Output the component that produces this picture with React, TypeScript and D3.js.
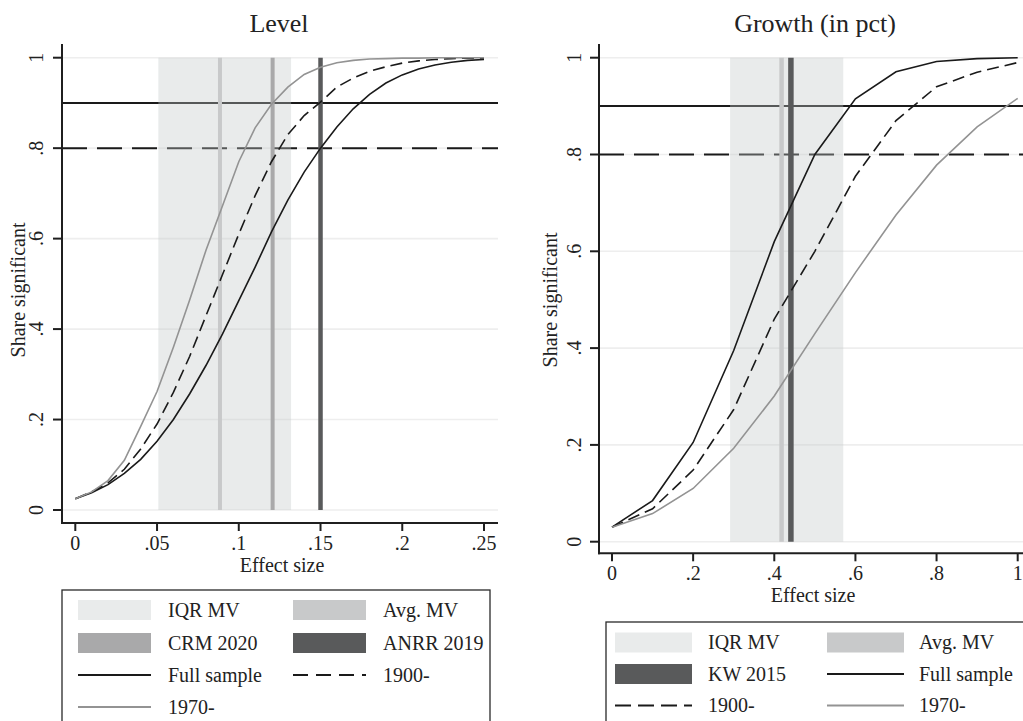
import React from "react";
import * as d3 from "d3";

// ---------- DATA ----------
const levelX = [0, 0.01, 0.02, 0.03, 0.04, 0.05, 0.06, 0.07, 0.08, 0.09, 0.1, 0.11, 0.12, 0.13, 0.14, 0.15, 0.16, 0.17, 0.18, 0.19, 0.2, 0.21, 0.22, 0.23, 0.24, 0.25];
const levelFull = [0.025, 0.038, 0.056, 0.081, 0.112, 0.152, 0.2, 0.257, 0.32, 0.389, 0.463, 0.537, 0.615, 0.685, 0.747, 0.8, 0.847, 0.887, 0.919, 0.944, 0.962, 0.975, 0.984, 0.99, 0.994, 0.996];
const level1900 = [0.025, 0.04, 0.06, 0.09, 0.135, 0.19, 0.26, 0.34, 0.43, 0.52, 0.61, 0.695, 0.77, 0.83, 0.872, 0.902, 0.935, 0.955, 0.97, 0.98, 0.988, 0.993, 0.996, 0.998, 0.999, 0.999];
const level1970 = [0.025, 0.04, 0.065, 0.11, 0.185, 0.262, 0.36, 0.465, 0.575, 0.672, 0.77, 0.845, 0.897, 0.935, 0.963, 0.979, 0.989, 0.994, 0.997, 0.998, 0.999, 0.999, 1.0, 1.0, 1.0, 1.0];

const growthX = [0, 0.1, 0.2, 0.3, 0.4, 0.5, 0.6, 0.7, 0.8, 0.9, 1.0];
const growthFull = [0.03, 0.085, 0.205, 0.395, 0.62, 0.8, 0.915, 0.971, 0.992, 0.998, 1.0];
const growth1900 = [0.03, 0.068, 0.148, 0.273, 0.46, 0.6, 0.755, 0.87, 0.94, 0.97, 0.99];
const growth1970 = [0.03, 0.058, 0.11, 0.193, 0.301, 0.43, 0.556, 0.675, 0.778, 0.857, 0.916];

const levelIQR = [0.0508, 0.132];
const levelAvgMV = 0.0885;
const levelCRM = 0.1207;
const levelANRR = 0.15;

const growthIQR = [0.291, 0.57];
const growthAvgMV = 0.418;
const growthKW = 0.441;

const thresholds = [0.9, 0.8];

const levelXTicks = [0, 0.05, 0.1, 0.15, 0.2, 0.25];
const levelXTickLabels = ["0", ".05", ".1", ".15", ".2", ".25"];
const growthXTicks = [0, 0.2, 0.4, 0.6, 0.8, 1];
const growthXTickLabels = ["0", ".2", ".4", ".6", ".8", "1"];
const yTicks = [0, 0.2, 0.4, 0.6, 0.8, 1];
const yTickLabels = ["0", ".2", ".4", ".6", ".8", "1"];

const titles = ["Level", "Growth (in pct)"];
const xTitle = "Effect size";
const yTitle = "Share significant";

const levelLegend = ["IQR MV", "Avg. MV", "CRM 2020", "ANRR 2019", "Full sample", "1900-", "1970-"];
const growthLegend = ["IQR MV", "Avg. MV", "KW 2015", "Full sample", "1900-", "1970-"];

// ---------- STYLES ----------
const FONT = "'Liberation Serif', 'DejaVu Serif', serif";
const FS = 20;
const C_BLACK = "#1a1a1a";
const C_GRAY = "#939393";
const C_AXIS = "#1f1f1f";
const C_GRID = "#eeeeee";
const C_BAND = "#c2c8c8";
const BAND_OP = 0.36;
const C_AVG = "#c8c9ca";
const C_CRM = "#a9a9aa";
const C_DARK = "#595a5b";

type Curve = { x: number[]; y: number[]; color: string; dash?: string };
type VLine = { v: number; color: string; w: number };

type PanelProps = {
  xDomain: [number, number];
  xRange: [number, number];
  yRange: [number, number];
  axisX: number;
  axisTop: number;
  axisBottom: number;
  plotRight: number;
  xTicks: number[];
  xTickLabels: string[];
  band: number[];
  vlines: VLine[];
  curves: Curve[];
  title: string;
  titleX: number;
  yTitleX: number;
  yTitleY: number;
  yLabelX: number;
};

function Panel(p: PanelProps) {
  const x = d3.scaleLinear().domain(p.xDomain).range(p.xRange);
  const y = d3.scaleLinear().domain([0, 1]).range(p.yRange);
  const line = d3
    .line<[number, number]>()
    .x((d) => x(d[0]))
    .y((d) => y(d[1]));
  return (
    <g>
      <text x={p.titleX} y={32} textAnchor="middle" fontFamily={FONT} fontSize={26} fill="#222">
        {p.title}
      </text>
      {yTicks.map((t) => (
        <line key={"g" + t} x1={p.axisX} x2={p.plotRight} y1={y(t)} y2={y(t)} stroke={C_GRID} strokeWidth={1.6} />
      ))}
      <line x1={p.axisX} x2={p.plotRight} y1={y(thresholds[0])} y2={y(thresholds[0])} stroke={C_BLACK} strokeWidth={2} />
      <line
        x1={p.axisX}
        x2={p.plotRight}
        y1={y(thresholds[1])}
        y2={y(thresholds[1])}
        stroke={C_BLACK}
        strokeWidth={2}
        strokeDasharray="25,10"
      />
      <rect
        x={x(p.band[0])}
        y={y(1)}
        width={x(p.band[1]) - x(p.band[0])}
        height={y(0) - y(1)}
        fill={C_BAND}
        fillOpacity={BAND_OP}
      />
      {p.vlines.map((v, i) => (
        <line key={"v" + i} x1={x(v.v)} x2={x(v.v)} y1={y(1)} y2={y(0)} stroke={v.color} strokeWidth={v.w} />
      ))}
      {p.curves.map((c, i) => (
        <path
          key={"c" + i}
          d={line(c.x.map((xv, j) => [xv, c.y[j]] as [number, number])) || ""}
          fill="none"
          stroke={c.color}
          strokeWidth={1.6}
          strokeDasharray={c.dash}
        />
      ))}
      <line x1={p.axisX} x2={p.axisX} y1={p.axisTop} y2={p.axisBottom + 1} stroke={C_AXIS} strokeWidth={2} />
      <line x1={p.axisX - 1} x2={p.plotRight} y1={p.axisBottom} y2={p.axisBottom} stroke={C_AXIS} strokeWidth={2} />
      {yTicks.map((t, i) => (
        <g key={"yt" + t}>
          <line x1={p.axisX - 9} x2={p.axisX} y1={y(t)} y2={y(t)} stroke={C_AXIS} strokeWidth={2} />
          <text
            transform={`translate(${p.yLabelX},${y(t)}) rotate(-90)`}
            textAnchor="middle"
            fontFamily={FONT}
            fontSize={FS}
            fill="#222"
          >
            {yTickLabels[i]}
          </text>
        </g>
      ))}
      {p.xTicks.map((t, i) => (
        <g key={"xt" + t}>
          <line x1={x(t)} x2={x(t)} y1={p.axisBottom} y2={p.axisBottom + 8} stroke={C_AXIS} strokeWidth={2} />
          <text x={x(t)} y={p.axisBottom + 27} textAnchor="middle" fontFamily={FONT} fontSize={FS} fill="#222">
            {p.xTickLabels[i]}
          </text>
        </g>
      ))}
      <text
        x={(p.axisX + Math.min(p.plotRight, 1023)) / 2 + 2}
        y={p.axisBottom + 49}
        textAnchor="middle"
        fontFamily={FONT}
        fontSize={FS}
        fill="#222"
      >
        {xTitle}
      </text>
      <text
        transform={`translate(${p.yTitleX},${p.yTitleY}) rotate(-90)`}
        textAnchor="middle"
        fontFamily={FONT}
        fontSize={FS}
        fill="#222"
      >
        {yTitle}
      </text>
    </g>
  );
}

type LegendItem = { label: string; kind: "rect" | "line"; color: string; dash?: string; opacity?: number };

function Legend(props: {
  x: number;
  y: number;
  w: number;
  items: LegendItem[];
  rowY: number[];
  sw1: number;
  tx1: number;
  sw2: number;
  tx2: number;
  swW: number;
}) {
  return (
    <g>
      <rect x={props.x} y={props.y} width={props.w} height={200} fill="#fff" stroke="#2a2a2a" strokeWidth={1.3} />
      {props.items.map((it, i) => {
        const row = Math.floor(i / 2);
        const col = i % 2;
        const cy = props.rowY[row];
        const sx = col === 0 ? props.sw1 : props.sw2;
        const tx = col === 0 ? props.tx1 : props.tx2;
        return (
          <g key={i}>
            {it.kind === "rect" ? (
              <rect x={sx} y={cy - 10} width={props.swW} height={20} fill={it.color} fillOpacity={it.opacity ?? 1} />
            ) : (
              <line
                x1={sx}
                x2={sx + props.swW}
                y1={cy}
                y2={cy}
                stroke={it.color}
                strokeWidth={2}
                strokeDasharray={it.dash}
              />
            )}
            <text x={tx} y={cy + 6.5} fontFamily={FONT} fontSize={FS} fill="#222">
              {it.label}
            </text>
          </g>
        );
      })}
    </g>
  );
}

export default function App() {
  const levelItems: LegendItem[] = [
    { label: levelLegend[0], kind: "rect", color: C_BAND, opacity: BAND_OP },
    { label: levelLegend[1], kind: "rect", color: C_AVG },
    { label: levelLegend[2], kind: "rect", color: C_CRM },
    { label: levelLegend[3], kind: "rect", color: C_DARK },
    { label: levelLegend[4], kind: "line", color: C_BLACK },
    { label: levelLegend[5], kind: "line", color: C_BLACK, dash: "15,8" },
    { label: levelLegend[6], kind: "line", color: C_GRAY },
  ];
  const growthItems: LegendItem[] = [
    { label: growthLegend[0], kind: "rect", color: C_BAND, opacity: BAND_OP },
    { label: growthLegend[1], kind: "rect", color: C_AVG },
    { label: growthLegend[2], kind: "rect", color: C_DARK },
    { label: growthLegend[3], kind: "line", color: C_BLACK },
    { label: growthLegend[4], kind: "line", color: C_BLACK, dash: "16,7" },
    { label: growthLegend[5], kind: "line", color: C_GRAY },
  ];
  return (
    <svg
      width={1023}
      height={721}
      style={{ position: "absolute", left: 0, top: 0, background: "#fff" }}
      xmlns="http://www.w3.org/2000/svg"
    >
      <rect x={0} y={0} width={1023} height={721} fill="#fff" />
      <Panel
        xDomain={[0, 0.25]}
        xRange={[75.3, 484]}
        yRange={[510, 57.7]}
        axisX={62}
        axisTop={44}
        axisBottom={523}
        plotRight={498}
        xTicks={levelXTicks}
        xTickLabels={levelXTickLabels}
        band={levelIQR}
        vlines={[
          { v: levelAvgMV, color: C_AVG, w: 4 },
          { v: levelCRM, color: C_CRM, w: 4 },
          { v: levelANRR, color: C_DARK, w: 4.5 },
        ]}
        curves={[
          { x: levelX, y: levelFull, color: C_BLACK },
          { x: levelX, y: level1900, color: C_BLACK, dash: "12,6" },
          { x: levelX, y: level1970, color: C_GRAY },
        ]}
        title={titles[0]}
        titleX={279}
        yTitleX={25}
        yTitleY={290}
        yLabelX={43}
      />
      <Panel
        xDomain={[0, 1]}
        xRange={[612, 1017.7]}
        yRange={[541.7, 57.7]}
        axisX={599}
        axisTop={44}
        axisBottom={553.3}
        plotRight={1030}
        xTicks={growthXTicks}
        xTickLabels={growthXTickLabels}
        band={growthIQR}
        vlines={[
          { v: growthAvgMV, color: C_AVG, w: 4.5 },
          { v: growthKW, color: C_DARK, w: 5.5 },
        ]}
        curves={[
          { x: growthX, y: growthFull, color: C_BLACK },
          { x: growthX, y: growth1900, color: C_BLACK, dash: "12,6" },
          { x: growthX, y: growth1970, color: C_GRAY },
        ]}
        title={titles[1]}
        titleX={815}
        yTitleX={557}
        yTitleY={300}
        yLabelX={581}
      />
      <Legend
        x={62}
        y={590}
        w={428}
        items={levelItems}
        rowY={[610, 643, 675, 707]}
        sw1={78}
        tx1={168}
        sw2={293}
        tx2={383}
        swW={73}
      />
      <Legend
        x={606}
        y={622}
        w={440}
        items={growthItems}
        rowY={[642.5, 674, 705.5]}
        sw1={615}
        tx1={708}
        sw2={827}
        tx2={919}
        swW={77}
      />
    </svg>
  );
}
